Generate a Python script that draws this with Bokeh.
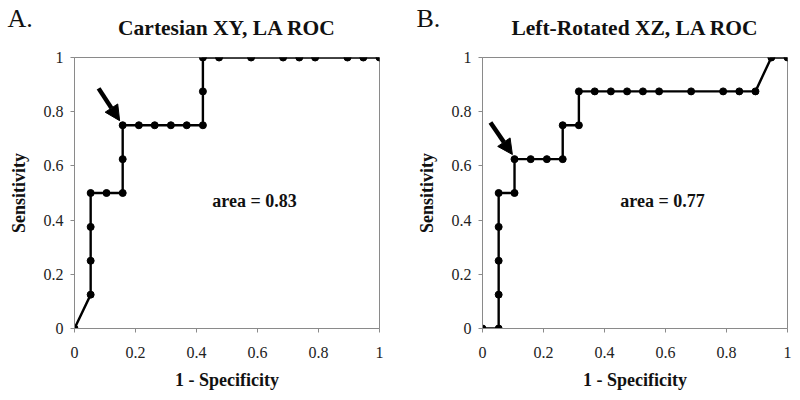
from bokeh.plotting import figure
from bokeh.layouts import row
from bokeh.models import (Range1d, FixedTicker, NumeralTickFormatter, Label, Arrow, NormalHead,
                          LinearAxis)
from bokeh.embed import file_html
from bokeh.resources import INLINE

# ---- data ----
a_fpr = [0, 0.053, 0.053, 0.053, 0.053, 0.105, 0.158, 0.158, 0.158, 0.211, 0.263, 0.316,
         0.368, 0.421, 0.421, 0.421, 0.474, 0.579, 0.684, 0.737, 0.789, 0.895, 0.947, 1.0]
a_tpr = [0, 0.125, 0.25, 0.375, 0.5, 0.5, 0.5, 0.625, 0.75, 0.75, 0.75, 0.75,
         0.75, 0.75, 0.875, 1.0, 1.0, 1.0, 1.0, 1.0, 1.0, 1.0, 1.0, 1.0]
b_fpr = [0, 0.053, 0.053, 0.053, 0.053, 0.053, 0.105, 0.105, 0.158, 0.211, 0.263, 0.263,
         0.316, 0.316, 0.368, 0.421, 0.474, 0.526, 0.579, 0.684, 0.789, 0.842, 0.895, 0.947, 1.0]
b_tpr = [0, 0, 0.125, 0.25, 0.375, 0.5, 0.5, 0.625, 0.625, 0.625, 0.625, 0.75,
         0.75, 0.875, 0.875, 0.875, 0.875, 0.875, 0.875, 0.875, 0.875, 0.875, 0.875, 1.0, 1.0]
titles = ["Cartesian XY, LA ROC", "Left-Rotated XZ, LA ROC"]
letters = ["A.", "B."]
areas = ["area = 0.83", "area = 0.77"]
ticks = [0, 0.2, 0.4, 0.6, 0.8, 1]
x_label = "1 - Specificity"
y_label = "Sensitivity"

# annotation placement
arrows = [((0.079, 0.886), (0.148, 0.767)), ((0.026, 0.760), (0.098, 0.642))]
letter_px = [7, 16]  # left edge of the panel letter within each figure (px)

SERIF = "Liberation Serif"
GRAY = "#8a8a8a"


def make(fpr, tpr, title, letter, area, arrow, lx, left, right):
    p = figure(width=400, height=400, output_backend="svg", toolbar_location=None,
               x_range=Range1d(0, 1), y_range=Range1d(0, 1),
               min_border_left=left, min_border_right=right,
               min_border_top=57, min_border_bottom=72)
    p.grid.visible = False
    p.outline_line_color = GRAY
    p.outline_line_width = 1
    for ax in (p.xaxis[0], p.yaxis[0]):
        ax.ticker = FixedTicker(ticks=ticks)
        ax.formatter = NumeralTickFormatter(format="0.[0]")
        ax.minor_tick_line_color = None
        ax.major_tick_in = 0
        ax.major_tick_out = 4
        ax.major_tick_line_color = GRAY
        ax.axis_line_color = GRAY
        ax.major_label_text_font = SERIF
        ax.major_label_text_font_size = "16px"
        ax.major_label_text_color = "#222222"
        ax.axis_label_text_font = SERIF
        ax.axis_label_text_font_size = "18px"
        ax.axis_label_text_font_style = "bold"
        ax.axis_label_text_color = "#111111"
    p.xaxis.axis_label = x_label
    p.yaxis.axis_label = y_label
    p.xaxis.major_label_standoff = 14
    p.xaxis.axis_label_standoff = 9
    p.yaxis.major_label_standoff = 7
    p.yaxis.axis_label_standoff = 12

    # chart title carried by a bare axis above the frame
    top = LinearAxis(axis_label=title, ticker=FixedTicker(ticks=[]), axis_line_color=None,
                     major_tick_line_color=None, minor_tick_line_color=None,
                     major_tick_out=0, major_tick_in=0, major_label_standoff=0,
                     major_label_text_font_size="0px", axis_label_standoff=18,
                     axis_label_text_font=SERIF, axis_label_text_font_size="21.5px",
                     axis_label_text_font_style="bold", axis_label_text_color="#111111")
    p.add_layout(top, "above")

    # panel letter as the plot title (outermost), pulled down beside the chart title
    p.title.text = letter
    p.title.text_font = SERIF
    p.title.text_font_size = "26px"
    p.title.text_font_style = "normal"
    p.title.text_color = "#111111"
    p.title.align = "left"
    p.title.vertical_align = "bottom"
    p.title.offset = -(left - lx)
    p.title.standoff = -41

    p.line(fpr, tpr, line_color="black", line_width=2.4)
    p.scatter(fpr, tpr, size=7, color="black")

    p.add_layout(Label(x=0.59, y=0.47, text=area, text_font=SERIF, text_font_size="18px",
                       text_font_style="bold", text_align="center", text_baseline="middle",
                       text_color="#111111"))
    (x0, y0), (x1, y1) = arrow
    p.add_layout(Arrow(x_start=x0, y_start=y0, x_end=x1, y_end=y1, line_width=4.5,
                       line_color="black",
                       end=NormalHead(size=15, fill_color="black", line_color="black")))
    return p


pa = make(a_fpr, a_tpr, titles[0], letters[0], areas[0], arrows[0], letter_px[0], 74, 21)
pb = make(b_fpr, b_tpr, titles[1], letters[1], areas[1], arrows[1], letter_px[1], 82, 13)
layout = row(pa, pb)

open("out.html", "w").write(file_html(layout, INLINE))
